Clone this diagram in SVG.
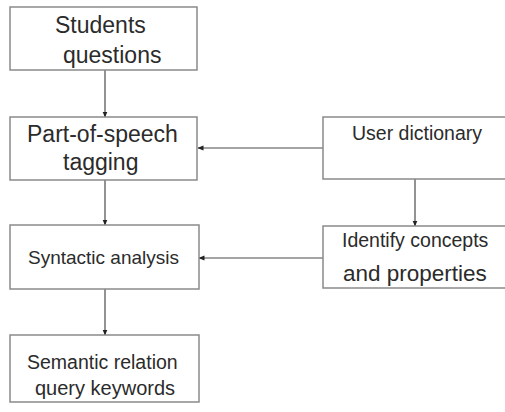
<svg xmlns="http://www.w3.org/2000/svg" width="505" height="412" viewBox="0 0 505 412">
<defs>
<style>
.box{fill:#fff;stroke:#8a8a8a;stroke-width:1.5}
.t{font-family:"Liberation Sans",Arial,sans-serif;fill:#2b2b2b}
.ln{stroke:#4a4a4a;stroke-width:1.2;fill:none}
</style>
<marker id="ah" markerWidth="6" markerHeight="6" refX="5.5" refY="3" orient="auto" markerUnits="userSpaceOnUse">
<path d="M0,0.5 L6,3 L0,5.5 Z" fill="#222"/>
</marker>
</defs>
<rect width="505" height="412" fill="#fff"/>
<g id="connectors">
<line class="ln" x1="105" y1="70" x2="105" y2="117" marker-end="url(#ah)"/>
<line class="ln" x1="105" y1="180" x2="105" y2="225" marker-end="url(#ah)"/>
<line class="ln" x1="105" y1="289" x2="105" y2="335" marker-end="url(#ah)"/>
<line class="ln" x1="323" y1="148" x2="198" y2="148" marker-end="url(#ah)"/>
<line class="ln" x1="323" y1="258" x2="199" y2="258" marker-end="url(#ah)"/>
<line class="ln" x1="415" y1="179" x2="415" y2="226" marker-end="url(#ah)"/>
</g>
<g id="students">
<rect class="box" x="10" y="7" width="187" height="63"/>
<text class="t" x="55" y="33" font-size="23">Students</text>
<text class="t" x="63" y="63" font-size="23">questions</text>
</g>
<g id="pos">
<rect class="box" x="10" y="117" width="187" height="63"/>
<text class="t" x="27" y="142" font-size="23">Part-of-speech</text>
<text class="t" x="63" y="170" font-size="23">tagging</text>
</g>
<g id="syntactic">
<rect class="box" x="10" y="225" width="189" height="64"/>
<text class="t" x="28" y="264" font-size="19">Syntactic analysis</text>
</g>
<g id="semantic">
<rect class="box" x="10" y="335" width="189" height="67"/>
<text class="t" x="27" y="369" font-size="19.5">Semantic relation</text>
<text class="t" x="35" y="395" font-size="20">query keywords</text>
</g>
<g id="userdict">
<rect class="box" x="323" y="117" width="190" height="62"/>
<text class="t" x="352" y="140" font-size="19.5">User dictionary</text>
</g>
<g id="identify">
<rect class="box" x="323" y="226" width="190" height="62"/>
<text class="t" x="342" y="247" font-size="19.5">Identify concepts</text>
<text class="t" x="343" y="281" font-size="22.5">and properties</text>
</g>
</svg>
